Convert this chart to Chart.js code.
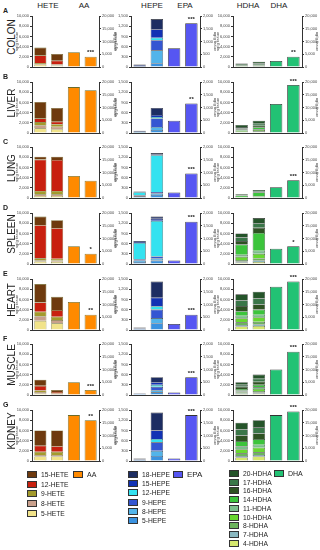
<!DOCTYPE html>
<html>
<head>
<meta charset="utf-8">
<title>Oxylipins wt vs fat-1</title>
<script src="https://cdn.jsdelivr.net/npm/chart.js"></script>
<style>
  body { margin: 0; width: 320px; height: 550px; position: relative; overflow: hidden; background: #fff;
         font-family: "Liberation Sans", Arial, sans-serif; color: #222; }
  canvas { position: absolute; }
  .hdr { position: absolute; top: 1px; font-size: 8px; transform: translateX(-50%); }
  .let { position: absolute; left: 3px; font-size: 7px; font-weight: bold; }
  .org { position: absolute; left: 11px; font-size: 10px; transform: translate(-50%, -50%) rotate(-90deg); white-space: nowrap; }
  .lg { position: absolute; font-size: 6.7px; white-space: nowrap; line-height: 8px; }
  .lg i { display: inline-block; width: 8px; height: 5px; border: 1px solid #333; margin-right: 4px; vertical-align: -1px; }
</style>
</head>
<body>
<script>
// --- data (ng/g tissue), pairs per organ: wt, fat-1 ---
const organs = ['COLON', 'LIVER', 'LUNG', 'SPLEEN', 'HEART', 'MUSCLE', 'KIDNEY'];
const letters = ['A', 'B', 'C', 'D', 'E', 'F', 'G'];
const groups = ['wt', 'fat-1', 'wt', 'fat-1'];

const hete5  = [460, 260, 920, 740, 400, 400, 470, 430, 1800, 1300, 300, 100, 900, 900];
const hete8  = [110, 80, 610, 490, 320, 320, 280, 260, 900, 650, 300, 100, 300, 300];
const hete9  = [190, 130, 610, 490, 650, 650, 370, 340, 900, 650, 300, 100, 600, 600];
const hete12 = [1520, 760, 730, 490, 6160, 6100, 6500, 6000, 1800, 1300, 900, 300, 1200, 1100];
const hete15 = [1520, 1320, 3230, 2690, 570, 630, 1680, 1570, 3600, 2600, 1200, 400, 3000, 3100];
const aa     = [5800, 4000, 18000, 16800, 8600, 6800, 7000, 4000, 11000, 6000, 5000, 2000, 18000, 16000];

const hepe5  = [5, 110, 5, 90, 50, 90, 60, 100, 5, 200, 5, 80, 5, 150];
const hepe8  = [5, 380, 5, 90, 20, 40, 40, 60, 5, 150, 5, 60, 5, 150];
const hepe9  = [10, 300, 8, 250, 20, 50, 40, 60, 10, 250, 5, 100, 10, 250];
const hepe12 = [10, 70, 10, 40, 80, 1080, 480, 1050, 15, 100, 10, 60, 15, 100];
const hepe15 = [10, 250, 10, 60, 10, 30, 30, 60, 10, 250, 5, 75, 10, 250];
const hepe18 = [35, 300, 30, 205, 10, 30, 25, 65, 30, 475, 15, 150, 30, 525];
const epa    = [740, 1720, 480, 1160, 220, 960, 140, 1660, 240, 600, 100, 700, 100, 1800];

const hdha4  = [30, 50, 100, 150, 40, 60, 300, 400, 700, 800, 200, 300, 700, 900];
const hdha7  = [20, 30, 50, 80, 30, 40, 200, 300, 300, 300, 100, 200, 300, 300];
const hdha8  = [30, 40, 100, 150, 40, 60, 300, 400, 500, 500, 200, 300, 500, 500];
const hdha10 = [30, 50, 150, 250, 60, 150, 600, 900, 800, 900, 200, 400, 800, 900];
const hdha11 = [40, 60, 100, 150, 50, 80, 400, 600, 500, 500, 200, 300, 600, 600];
const hdha14 = [50, 80, 200, 350, 200, 700, 2000, 3500, 900, 1000, 300, 500, 1000, 1100];
const hdha16 = [100, 150, 200, 300, 100, 150, 700, 1000, 1000, 1000, 400, 600, 1100, 1100];
const hdha17 = [150, 240, 270, 400, 120, 150, 700, 900, 1100, 1200, 400, 600, 1200, 1200];
const hdha20 = [250, 350, 400, 570, 160, 180, 800, 1000, 1200, 1300, 500, 800, 1300, 1400];
const dha    = [2400, 4000, 11400, 18800, 4200, 7000, 6000, 7000, 17000, 19000, 10000, 17000, 18000, 19400];

// axis tops per organ
const heteMax = [10000, 10000, 10000, 10000, 10000, 10000, 10000];
const aaMax   = [20000, 20000, 20000, 20000, 20000, 20000, 20000];
const hepeMax = [1500, 1500, 1500, 1500, 1500, 1500, 1500];
const epaMax  = [2000, 2000, 2000, 2000, 2000, 2000, 2000];
const hdhaMax = [10000, 10000, 10000, 10000, 10000, 10000, 10000];
const dhaMax  = [20000, 20000, 20000, 20000, 20000, 20000, 20000];

const aaStars  = ['***', '', '', '*', '**', '***', '**'];
const epaStars = ['***', '**', '***', '***', '***', '***', '***'];
const dhaStars = ['**', '***', '***', '*', '***', '***', '***'];

// --- families: stacked metabolites listed bottom to top ---
const families = [
  { head: ['HETE', 'AA'], sets: [['5-HETE', hete5, '#f1e38a'], ['8-HETE', hete8, '#c9a08c'], ['9-HETE', hete9, '#a39a2c'],
      ['12-HETE', hete12, '#c8200f'], ['15-HETE', hete15, '#6e3a0e']],
    parent: ['AA', aa, '#ff8a00'], lmax: heteMax, rmax: aaMax, stars: aaStars, edge: '#6b6b2a' },
  { head: ['HEPE', 'EPA'], sets: [['5-HEPE', hepe5, '#3a92e0'], ['8-HEPE', hepe8, '#52b4ea'], ['9-HEPE', hepe9, '#3456d2'],
      ['12-HEPE', hepe12, '#34e2f0'], ['15-HEPE', hepe15, '#1232b4'], ['18-HEPE', hepe18, '#1d2d62']],
    parent: ['EPA', epa, '#5656f2'], lmax: hepeMax, rmax: epaMax, stars: epaStars, edge: '#333' },
  { head: ['HDHA', 'DHA'], sets: [['4-HDHA', hdha4, '#d6e86e'], ['7-HDHA', hdha7, '#8ab8c0'], ['8-HDHA', hdha8, '#6cb45c'],
      ['10-HDHA', hdha10, '#68d830'], ['11-HDHA', hdha11, '#7cc08c'], ['14-HDHA', hdha14, '#3cc43c'],
      ['16-HDHA', hdha16, '#2e5222'], ['17-HDHA', hdha17, '#3a7648'], ['20-HDHA', hdha20, '#25542a']],
    parent: ['DHA', dha, '#22c274'], lmax: hdhaMax, rmax: dhaMax, stars: dhaStars, edge: '#333' }
];

const rowBase = [67, 133, 198, 264, 330, 395, 461];
const colLeft = [14, 113, 215];
const colWidth = [104, 105, 105];
const rightW = [19, 18, 18];

const tiny = { size: 4, family: 'Liberation Sans' };

const starPlugin = {
  id: 'stars',
  afterDatasetsDraw(chart) {
    const marks = chart.options.plugins.stars.marks;
    const meta = chart.getDatasetMeta(chart.data.datasets.length - 1);
    const ctx = chart.ctx;
    ctx.save();
    ctx.fillStyle = '#222';
    ctx.font = 'bold 6px Liberation Sans';
    ctx.textAlign = 'center';
    ctx.textBaseline = 'bottom';
    meta.data.forEach((bar, i) => {
      if (marks[i]) ctx.fillText(marks[i], bar.x, bar.y - 1);
    });
    ctx.restore();
  }
};

function axis(pos, max, steps, w) {
  return {
    position: pos, stacked: true, min: 0, max: max,
    ticks: { stepSize: max / steps, font: tiny, color: '#444', padding: 1 },
    title: { display: true, text: 'ng/g tissue', font: tiny, color: '#444', padding: 0 },
    grid: { drawOnChartArea: false, tickLength: 2, color: '#333' },
    border: { color: '#333' },
    afterFit(s) { s.width = w; }
  };
}

function panel(c, r) {
  const f = families[c];
  const i0 = r * 2, i1 = r * 2 + 1;
  const datasets = f.sets.map(s => ({
    label: s[0], data: [s[1][i0], s[1][i1], null, null], backgroundColor: s[2],
    borderColor: f.edge, borderWidth: 0.6, yAxisID: 'y', stack: 's'
  }));
  const p = f.parent;
  datasets.push({ label: p[0], data: [null, null, p[1][i0], p[1][i1]], backgroundColor: p[2],
    borderColor: f.edge, borderWidth: 0.8, yAxisID: 'y2', stack: 's' });

  const cv = document.createElement('canvas');
  cv.width = colWidth[c];
  cv.height = 67;
  cv.style.left = colLeft[c] + 'px';
  cv.style.top = (rowBase[r] - 58) + 'px';
  document.body.appendChild(cv);

  new Chart(cv, {
    type: 'bar',
    data: { labels: groups, datasets: datasets },
    options: {
      responsive: false, animation: false, devicePixelRatio: 1,
      layout: { padding: { top: 7 } },
      datasets: { bar: { barPercentage: 0.8, categoryPercentage: 0.9 } },
      scales: {
        x: { stacked: true, ticks: { font: tiny, color: '#444', padding: 1, maxRotation: 0, autoSkip: false },
             grid: { display: false }, border: { color: '#333' }, afterFit(s) { s.height = 9; } },
        y: axis('left', f.lmax[r], 5, 18),
        y2: axis('right', f.rmax[r], 4, rightW[c])
      },
      plugins: { legend: { display: false }, tooltip: { enabled: false }, stars: { marks: ['', '', '', f.stars[r]] } }
    },
    plugins: [starPlugin]
  });
}

function addDiv(cls, html, css) {
  const d = document.createElement('div');
  d.className = cls;
  d.innerHTML = html;
  Object.assign(d.style, css);
  document.body.appendChild(d);
}

// column headers
const headX = [[48, 84], [152, 185], [248, 279]];
families.forEach((f, c) => {
  addDiv('hdr', f.head[0], { left: headX[c][0] + 'px' });
  addDiv('hdr', f.head[1], { left: headX[c][1] + 'px' });
});

organs.forEach((o, r) => {
  addDiv('let', letters[r], { top: (rowBase[r] - 60) + 'px' });
  addDiv('org', o, { top: (rowBase[r] - 30) + 'px' });
  for (let c = 0; c < 3; c++) panel(c, r);
});

// legend
const lgX = [27, 128, 229];
const lgTop = [471, 471, 470];
const lgStep = [9.7, 9.2, 8.7];
const parentX = [73, 173, 274];
families.forEach((f, c) => {
  f.sets.slice().reverse().forEach((s, k) => {
    addDiv('lg', '<i style="background:' + s[2] + '"></i>' + s[0],
      { left: lgX[c] + 'px', top: (lgTop[c] + k * lgStep[c]) + 'px' });
  });
  const p = f.parent;
  addDiv('lg', '<i style="background:' + p[2] + '"></i>' + p[0],
    { left: parentX[c] + 'px', top: lgTop[c] + 'px', fontSize: c === 1 ? '8px' : '7px' });
});
</script>
</body>
</html>
